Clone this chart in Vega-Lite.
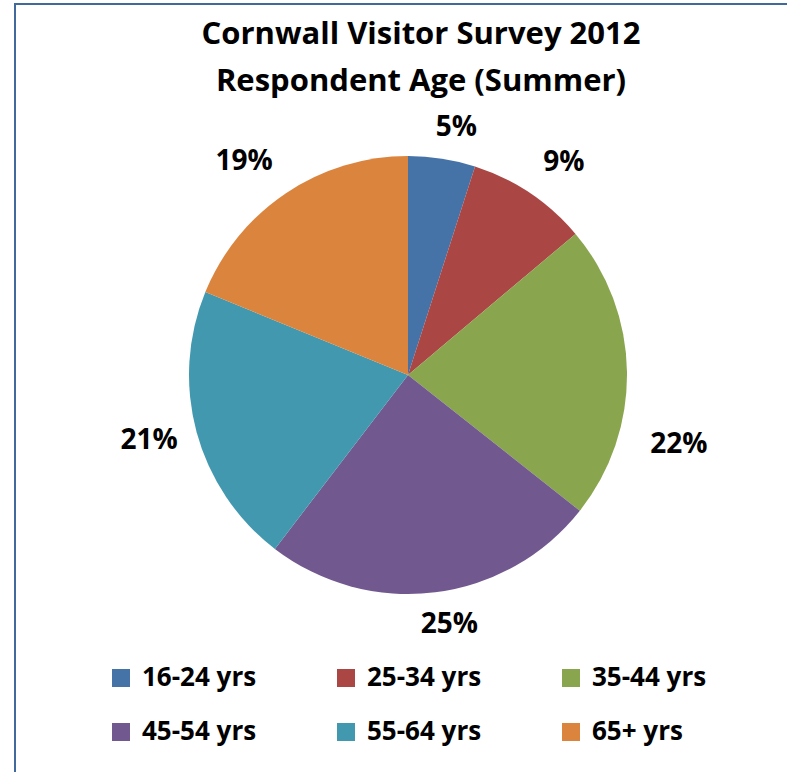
{
  "$schema": "https://vega.github.io/schema/vega-lite/v6.json",
  "width": 786,
  "height": 800,
  "autosize": {"type": "none"},
  "padding": {"left": 15, "top": 4, "right": -14, "bottom": -32},
  "background": "white",
  "view": {"stroke": "#41699C", "strokeWidth": 2, "fill": "white"},
  "title": {
    "text": ["Cornwall Visitor Survey 2012", "Respondent Age (Summer)"],
    "font": "Open Sans",
    "fontSize": 31,
    "fontWeight": "bold",
    "color": "black",
    "anchor": "middle",
    "frame": "group",
    "offset": -94,
    "dx": 13,
    "lineHeight": 47
  },
  "data": {
    "values": [
      {"age": "16-24 yrs", "pct": 5, "label": "5%"},
      {"age": "25-34 yrs", "pct": 9, "label": "9%"},
      {"age": "35-44 yrs", "pct": 22, "label": "22%"},
      {"age": "45-54 yrs", "pct": 25, "label": "25%"},
      {"age": "55-64 yrs", "pct": 21, "label": "21%"},
      {"age": "65+ yrs", "pct": 19, "label": "19%"}
    ]
  },
  "encoding": {
    "theta": {"field": "pct", "type": "quantitative", "stack": true},
    "order": {"field": "age", "type": "ordinal"}
  },
  "layer": [
    {
      "mark": {"type": "arc", "outerRadius": 219, "yOffset": -29},
      "encoding": {
        "color": {
          "field": "age",
          "type": "nominal",
          "scale": {
            "domain": ["16-24 yrs", "25-34 yrs", "35-44 yrs", "45-54 yrs", "55-64 yrs", "65+ yrs"],
            "range": ["#4572A7", "#AA4643", "#89A54E", "#71588F", "#4198AF", "#DB843D"]
          },
          "legend": {
            "orient": "none",
            "direction": "horizontal",
            "legendX": 93,
            "legendY": 661,
            "columns": 3,
            "title": null,
            "symbolType": "square",
            "symbolSize": 324,
            "symbolStrokeWidth": 0,
            "symbolOpacity": 1,
            "labelFont": "Open Sans",
            "labelFontSize": 26,
            "labelFontWeight": "bold",
            "labelColor": "black",
            "labelOffset": 8,
            "labelLimit": 400,
            "labelBaseline": "middle",
            "gridAlign": "all",
            "columnPadding": 76,
            "rowPadding": 28
          }
        }
      }
    },
    {
      "mark": {"type": "text", "radius": 260, "font": "Open Sans", "fontSize": 28, "fontWeight": "bold", "color": "black", "dx": 8, "dy": -19},
      "encoding": {"text": {"condition": {"test": "datum.age !== '16-24 yrs'", "value": ""}, "field": "label"}}
    },
    {
      "mark": {"type": "text", "radius": 260, "font": "Open Sans", "fontSize": 28, "fontWeight": "bold", "color": "black", "dx": 11, "dy": -25},
      "encoding": {"text": {"condition": {"test": "datum.age !== '25-34 yrs'", "value": ""}, "field": "label"}}
    },
    {
      "mark": {"type": "text", "radius": 260, "font": "Open Sans", "fontSize": 28, "fontWeight": "bold", "color": "black", "dx": 11, "dy": 45},
      "encoding": {"text": {"condition": {"test": "datum.age !== '35-44 yrs'", "value": ""}, "field": "label"}}
    },
    {
      "mark": {"type": "text", "radius": 260, "font": "Open Sans", "fontSize": 28, "fontWeight": "bold", "color": "black", "dx": 9, "dy": -37},
      "encoding": {"text": {"condition": {"test": "datum.age !== '45-54 yrs'", "value": ""}, "field": "label"}}
    },
    {
      "mark": {"type": "text", "radius": 260, "font": "Open Sans", "fontSize": 28, "fontWeight": "bold", "color": "black", "dx": -8, "dy": -31},
      "encoding": {"text": {"condition": {"test": "datum.age !== '55-64 yrs'", "value": ""}, "field": "label"}}
    },
    {
      "mark": {"type": "text", "radius": 260, "font": "Open Sans", "fontSize": 28, "fontWeight": "bold", "color": "black", "dx": -19, "dy": -26},
      "encoding": {"text": {"condition": {"test": "datum.age !== '65+ yrs'", "value": ""}, "field": "label"}}
    }
  ]
}
